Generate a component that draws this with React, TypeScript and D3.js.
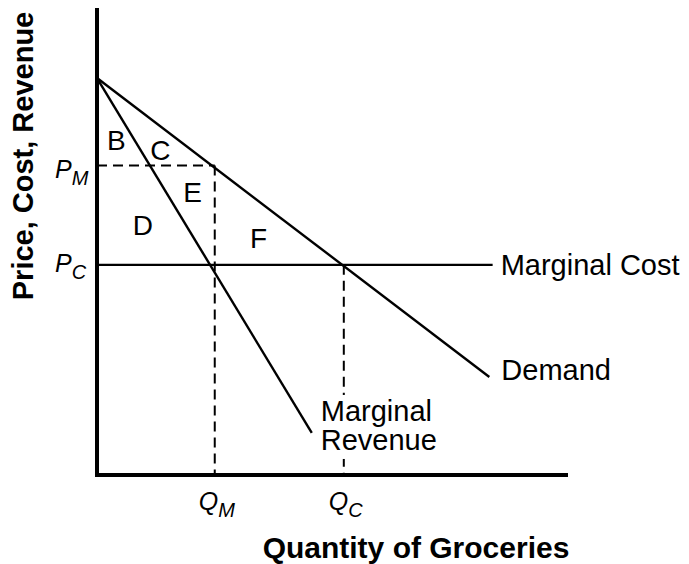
import React, { useEffect, useRef } from 'react';
import * as d3 from 'd3';

// quantity / price in arbitrary units (0..100 on both axes)
const demandPts: [number, number][] = [[0, 85], [83.3, 21]];
const marginalRevenuePts: [number, number][] = [[0, 85], [45.6, 9]];
const marginalCost = 45;
const priceMonopoly = 66.3;
const qtyMonopoly = 25;
const qtyCompetitive = 52.4;
const mcEnd = 84;

const areaLabels = ['B', 'C', 'E', 'D', 'F'];
const areaPos: [number, number][] = [[2.1, 69.6], [11.3, 67.5], [18.3, 58.5], [7.6, 51.4], [32.5, 48.6]];

const W = 689;
const H = 564;
const FONT = 'Liberation Sans, Arial, Helvetica, sans-serif';

export default function App() {
  const ref = useRef<SVGSVGElement>(null);

  useEffect(() => {
    const svg = d3.select(ref.current);
    svg.selectAll('*').remove();

    const x = d3.scaleLinear().domain([0, 100]).range([97, 568]);
    const y = d3.scaleLinear().domain([0, 100]).range([475, 8]);
    const line = d3.line<[number, number]>().x(d => x(d[0])).y(d => y(d[1]));

    const g = svg.append('g');

    // dashed guides
    const dashed = (pts: [number, number][]) =>
      g.append('path').attr('d', line(pts))
        .attr('stroke', '#000').attr('stroke-width', 2).attr('stroke-dasharray', '10,6').attr('fill', 'none');
    dashed([[0, priceMonopoly], [qtyMonopoly, priceMonopoly]]);
    dashed([[qtyMonopoly, priceMonopoly], [qtyMonopoly, 0]]);
    dashed([[qtyCompetitive, marginalCost], [qtyCompetitive, 0]]);

    // curves
    const solid = (pts: [number, number][]) =>
      g.append('path').attr('d', line(pts))
        .attr('stroke', '#000').attr('stroke-width', 2.4).attr('fill', 'none');
    solid(demandPts);
    solid(marginalRevenuePts);
    solid([[0, marginalCost], [mcEnd, marginalCost]]);

    // white patch behind the MR label (the Q_C guide breaks there)
    const mrx = x(marginalRevenuePts[1][0]);
    const mry = y(marginalRevenuePts[1][1]);
    g.append('rect').attr('x', mrx + 6).attr('y', mry - 38).attr('width', 122).attr('height', 64)
      .attr('fill', '#fff');

    // axes
    g.append('line').attr('x1', x(0)).attr('x2', x(0)).attr('y1', y(100)).attr('y2', y(0) + 2)
      .attr('stroke', '#000').attr('stroke-width', 4);
    g.append('line').attr('x1', x(0) - 2).attr('x2', x(100)).attr('y1', y(0)).attr('y2', y(0))
      .attr('stroke', '#000').attr('stroke-width', 4);

    // area letters
    g.selectAll('text.area').data(areaLabels).enter().append('text')
      .attr('class', 'area')
      .attr('x', (d, i) => x(areaPos[i][0]))
      .attr('y', (d, i) => y(areaPos[i][1]))
      .attr('font-family', FONT).attr('font-size', 28)
      .text(d => d);

    // curve labels
    const lab = (tx: number, ty: number, s: string) =>
      g.append('text').attr('x', tx).attr('y', ty)
        .attr('font-family', FONT).attr('font-size', 29).text(s);
    lab(x(mcEnd) + 8, y(marginalCost) + 10, 'Marginal Cost');
    lab(x(demandPts[1][0]) + 12, y(demandPts[1][1]) + 3, 'Demand');
    lab(mrx + 9, mry - 12, 'Marginal');
    lab(mrx + 9, mry + 17, 'Revenue');

    // P and Q tick labels
    const sub = (tx: number, ty: number, main: string, s: string) => {
      const t = g.append('text').attr('x', tx).attr('y', ty)
        .attr('font-family', FONT).attr('font-size', 25).attr('font-style', 'italic');
      t.append('tspan').text(main);
      t.append('tspan').attr('dy', 7).attr('font-size', 20).text(s);
    };
    sub(55, y(priceMonopoly) + 13, 'P', 'M');
    sub(55, y(marginalCost) + 7, 'P', 'C');
    sub(x(qtyMonopoly) - 16, 510, 'Q', 'M');
    sub(x(qtyCompetitive) - 15, 510, 'Q', 'C');

    // axis titles
    svg.append('text')
      .attr('transform', `translate(33, 156) rotate(-90)`)
      .attr('text-anchor', 'middle')
      .attr('font-family', FONT).attr('font-weight', 'bold').attr('font-size', 29)
      .text('Price, Cost, Revenue');
    svg.append('text')
      .attr('x', 416).attr('y', 558)
      .attr('text-anchor', 'middle')
      .attr('font-family', FONT).attr('font-weight', 'bold').attr('font-size', 30)
      .text('Quantity of Groceries');
  }, []);

  return (
    <svg ref={ref} width={W} height={H} style={{ position: 'absolute', left: 0, top: 0, background: '#fff' }} />
  );
}
